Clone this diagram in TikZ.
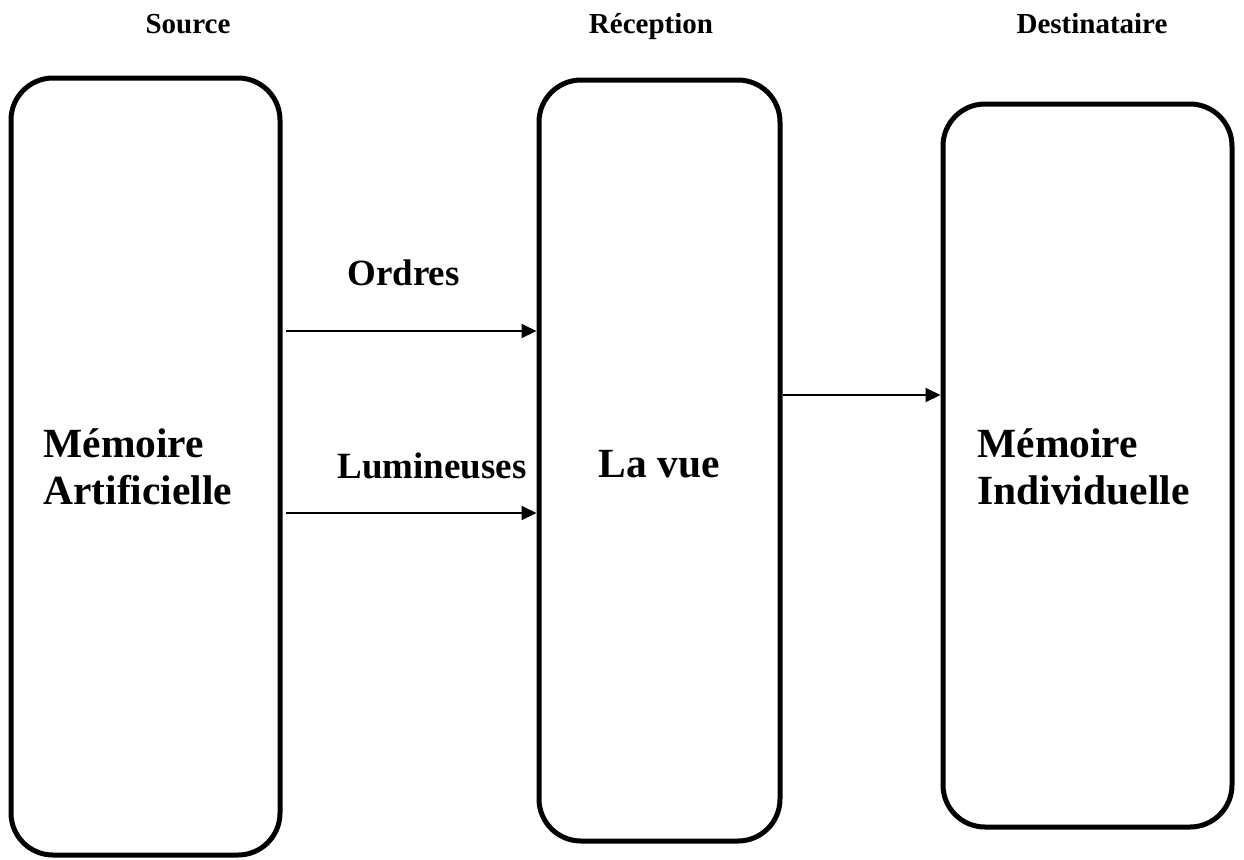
\documentclass[tikz,border=0pt]{standalone}
\usepackage{fontspec}
\setmainfont{Liberation Serif}
\usetikzlibrary{arrows.meta}
\begin{document}
\begin{tikzpicture}[x=0.5pt,y=-0.5pt,
  box/.style={draw=black, line width=2.5pt, rounded corners=21pt, fill=white, inner sep=0pt},
  head/.style={font=\fontsize{14.5}{17}\selectfont\bfseries, inner sep=0pt, anchor=base},
  lab/.style={font=\fontsize{18.5}{22}\selectfont\bfseries, inner sep=0pt, anchor=base},
  big/.style={font=\fontsize{20.75}{23.5}\selectfont\bfseries, inner sep=0pt},
  arr/.style={line width=1pt, -{Triangle[length=7.5pt,width=7pt]}}]
\useasboundingbox (0,0) rectangle (1244,859);
\node[box, minimum width=134.5pt, minimum height=388.5pt] (b1) at (145.5,466.5) {};
\node[box, minimum width=120.5pt, minimum height=380.5pt] (b2) at (659.5,460.5) {};
\node[box, minimum width=144.5pt, minimum height=361.5pt] (b3) at (1087.5,465.5) {};
\node[head] (h1) at (188,33) {Source};
\node[head] (h2) at (651,33) {Réception};
\node[head] (h3) at (1092,33) {Destinataire};
\node[lab] (ordres) at (403.5,285) {Ordres};
\node[lab] (lum) at (432,478) {Lumineuses};
\node[big, anchor=base west, align=left] (t1) at (43,504) {Mémoire\\Artificielle};
\node[big, anchor=base] (t2) at (659,477) {La vue};
\node[big, anchor=base west, align=left] (t3) at (977,504) {Mémoire\\Individuelle};
\coordinate (a1) at ([xshift=1.75pt]b1.east |- 0,331);
\coordinate (a2) at ([xshift=1.75pt]b1.east |- 0,513);
\draw[arr] (a1) -- (b2.west |- a1);
\draw[arr] (a2) -- (b2.west |- a2);
\draw[arr] (b2.east |- 0,395) -- (b3.west |- 0,395);
\end{tikzpicture}
\end{document}
